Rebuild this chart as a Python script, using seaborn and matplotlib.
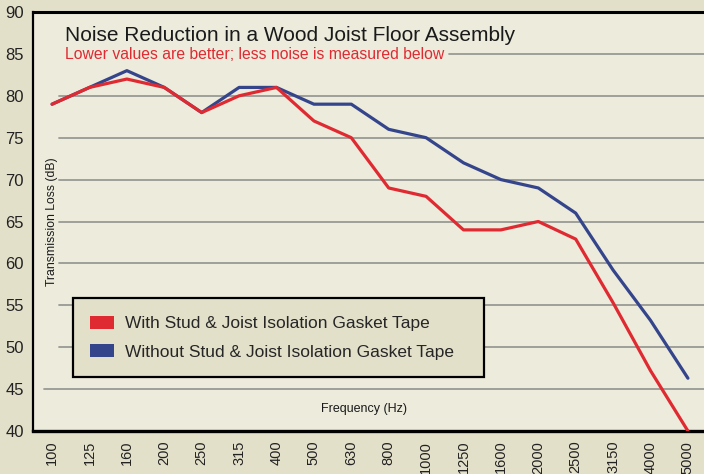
import pandas as pd
import numpy as np
import seaborn as sns
import matplotlib.pyplot as plt
from matplotlib.patches import Patch

# data
frequencies = ["100", "125", "160", "200", "250", "315", "400", "500", "630",
               "800", "1000", "1250", "1600", "2000", "2500", "3150", "4000", "5000"]
withTape = [79, 81, 82, 81, 78, 80, 81, 77, 75, 69, 68, 64, 64, 65, 62.9, 55.3, 47.2, 40]
withoutTape = [79, 81, 83, 81, 78, 81, 81, 79, 79, 76, 75, 72, 70, 69, 66, 59.2, 53.2, 46.3]
seriesNames = ["With Stud & Joist Isolation Gasket Tape",
               "Without Stud & Joist Isolation Gasket Tape"]
yTicks = [40, 45, 50, 55, 60, 65, 70, 75, 80, 85, 90]

red = "#e02a32"
blue = "#35458c"
figBg = "#e3e0ca"
axBg = "#ecebdc"

sns.set_style("white")
plt.rcParams["font.family"] = ["Liberation Sans", "DejaVu Sans"]

df = pd.DataFrame({
    "pos": list(range(len(frequencies))) * 2,
    "loss": withTape + withoutTape,
    "series": [seriesNames[0]] * len(frequencies) + [seriesNames[1]] * len(frequencies),
})

fig = plt.figure(figsize=(7.04, 4.74), dpi=100, facecolor=figBg)
ax = fig.add_axes([33 / 704, 43 / 474, 671 / 704, 419 / 474])
ax.set_facecolor(axBg)

# gridlines (gap next to the y axis for the label, and behind the subtitle at 85)
for v in yTicks[1:-1]:
    start = 59
    if v == 45:
        start = 44
    elif v == 85:
        start = 449
    ax.axhline(v, xmin=(start - 33) / 671, xmax=1, color="#9a9a96", lw=1.3, zorder=1)

# draw the blue line first so the red one sits on top
sns.lineplot(data=df, x="pos", y="loss", hue="series",
             palette={seriesNames[0]: red, seriesNames[1]: blue},
             hue_order=seriesNames[::-1], sort=False, linewidth=2.3, ax=ax,
             legend=False, zorder=3)

ax.set_xlim(-0.51, 17.43)
ax.set_ylim(40, 90)
ax.set_xticks(range(len(frequencies)))
ax.set_xticklabels(frequencies, rotation=90, fontsize=10.5, color="#222222")
ax.set_yticks(yTicks)
ax.set_yticklabels([str(t) for t in yTicks], fontsize=12, color="#222222")
ax.tick_params(axis="x", direction="out", length=5, width=1.2, color="black", pad=2)
ax.tick_params(axis="y", direction="inout", length=12, width=1.3, color="#9a9a96", pad=0.5)
ax.set_xlabel("")
ax.set_ylabel("")

for side in ["top", "left", "bottom"]:
    ax.spines[side].set_color("black")
ax.spines["top"].set_linewidth(2.2)
ax.spines["left"].set_linewidth(1.6)
ax.spines["bottom"].set_linewidth(2.4)
ax.spines["right"].set_visible(False)

ax.text(0.0477, 0.931, "Noise Reduction in a Wood Joist Floor Assembly",
        transform=ax.transAxes, fontsize=15, color="#1a1a1a", va="baseline", zorder=6)
ax.text(0.0477, 0.888, "Lower values are better; less noise is measured below",
        transform=ax.transAxes, fontsize=11.3, color=red, va="baseline", zorder=4)
ax.text(0.028, 0.5, "Transmission Loss (dB)", transform=ax.transAxes,
        rotation=90, fontsize=8.8, ha="center", va="center", color="#1a1a1a")
ax.text((364 - 33) / 671, (431 - 409) / 419, "Frequency (Hz)", transform=ax.transAxes,
        fontsize=9, ha="center", va="center", color="#1a1a1a")

handles = [Patch(facecolor=red, edgecolor="none"), Patch(facecolor=blue, edgecolor="none")]
leg = ax.legend(handles, seriesNames, loc="lower left",
                bbox_to_anchor=((73 - 33) / 671, (431 - 377) / 419, 411 / 671, 84 / 419),
                mode="expand", borderaxespad=0, fontsize=12.5, frameon=True, fancybox=False,
                handlelength=1.35, handleheight=0.75, handletextpad=0.65, labelspacing=0.75,
                borderpad=1.0)
leg.get_frame().set_facecolor(figBg)
leg.get_frame().set_edgecolor("black")
leg.get_frame().set_linewidth(1.6)
leg.get_frame().set_alpha(1)
leg.set_zorder(5)

fig.savefig("out.png", dpi=100, facecolor=figBg)
